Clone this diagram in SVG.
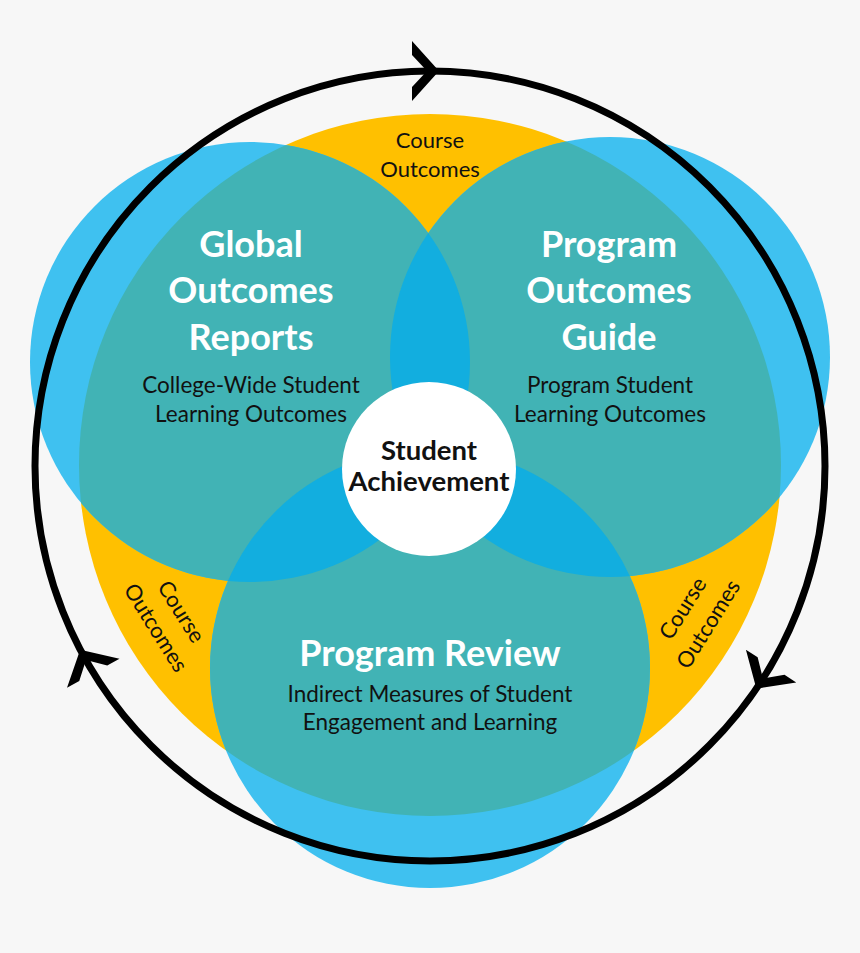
<svg xmlns="http://www.w3.org/2000/svg" width="860" height="953" viewBox="0 0 860 953">
<style>
.title{font-family:Lato,"Open Sans","Liberation Sans",sans-serif;font-weight:bold;font-size:36px;fill:#ffffff;text-anchor:middle}
.sub{font-family:Lato,"Open Sans","Liberation Sans",sans-serif;font-size:22.5px;fill:#111111;text-anchor:middle}
.course{font-family:Lato,"Open Sans","Liberation Sans",sans-serif;font-size:22px;fill:#111111;text-anchor:middle}
.center{font-family:Lato,"Open Sans","Liberation Sans",sans-serif;font-weight:bold;font-size:27.5px;fill:#111111;text-anchor:middle}
.blue{fill:#3FC1F0}
.teal{fill:#41B3B5}
.deep{fill:#12AEDF}
.arrowhead{fill:#000000}
</style>
<defs>
<clipPath id="clipYellow"><circle cx="430" cy="465" r="351"/></clipPath>
<clipPath id="clipG"><circle cx="250" cy="362" r="220"/></clipPath>
<clipPath id="clipP"><circle cx="610" cy="357" r="220"/></clipPath>
<clipPath id="clipR"><circle cx="430" cy="668" r="220"/></clipPath>
<polygon id="head" points="0,0 -27,-30 -27,-16 -12,0 -27,16 -27,30"/>
</defs>
<rect width="860" height="953" fill="#F7F7F7"/>
<g id="course-outcomes-ring">
<circle cx="430" cy="465" r="351" fill="#FFC000"/>
</g>
<g id="circles">
<circle class="blue" cx="250" cy="362" r="220"/>
<circle class="blue" cx="610" cy="357" r="220"/>
<circle class="blue" cx="430" cy="668" r="220"/>
<g clip-path="url(#clipYellow)">
<circle class="teal" cx="250" cy="362" r="220"/>
<circle class="teal" cx="610" cy="357" r="220"/>
<circle class="teal" cx="430" cy="668" r="220"/>
<g clip-path="url(#clipG)">
<circle class="deep" cx="610" cy="357" r="220"/>
<circle class="deep" cx="430" cy="668" r="220"/>
</g>
<g clip-path="url(#clipP)">
<circle class="deep" cx="430" cy="668" r="220"/>
</g>
</g>
</g>
<g id="connectors">
<circle cx="430" cy="466" r="395" fill="none" stroke="#000000" stroke-width="7"/>
<use href="#head" class="arrowhead" transform="translate(430,466) rotate(0) translate(9,-395)"/>
<use href="#head" class="arrowhead" transform="translate(430,466) rotate(123) translate(9,-395)"/>
<use href="#head" class="arrowhead" transform="translate(430,466) rotate(241) translate(9,-395)"/>
</g>
<g id="course-outcomes-top">
<text class="course" x="430" y="148">Course</text>
<text class="course" x="430" y="177">Outcomes</text>
</g>
<g id="course-outcomes-left" transform="translate(168,620) rotate(58)">
<text class="course" x="0" y="-8">Course</text>
<text class="course" x="0" y="22">Outcomes</text>
</g>
<g id="course-outcomes-right" transform="translate(696,616.5) rotate(-58)">
<text class="course" x="0" y="-8">Course</text>
<text class="course" x="0" y="22">Outcomes</text>
</g>
<g id="global-outcomes">
<text class="title" x="251" y="257">Global</text>
<text class="title" x="251" y="303">Outcomes</text>
<text class="title" x="251" y="350">Reports</text>
<text class="sub" x="251" y="393">College-Wide Student</text>
<text class="sub" x="251" y="422">Learning Outcomes</text>
</g>
<g id="program-outcomes">
<text class="title" x="609" y="257">Program</text>
<text class="title" x="609" y="303">Outcomes</text>
<text class="title" x="609" y="350">Guide</text>
<text class="sub" x="610" y="393">Program Student</text>
<text class="sub" x="610" y="422">Learning Outcomes</text>
</g>
<g id="program-review">
<text class="title" x="430" y="666">Program Review</text>
<text class="sub" x="430" y="702">Indirect Measures of Student</text>
<text class="sub" x="430" y="730">Engagement and Learning</text>
</g>
<g id="student-achievement">
<circle cx="429" cy="469" r="87" fill="#ffffff"/>
<text class="center" x="429" y="460">Student</text>
<text class="center" x="429" y="491">Achievement</text>
</g>
</svg>
